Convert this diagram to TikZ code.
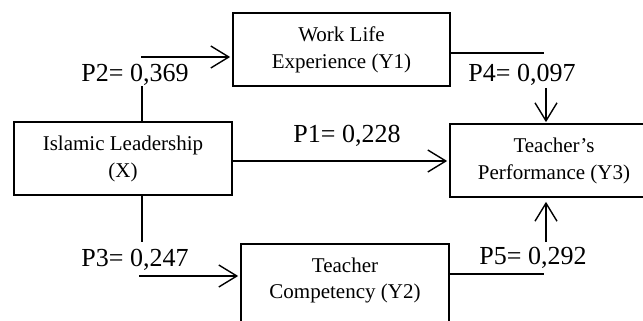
\documentclass[tikz,border=0pt]{standalone}
\usepackage{fontspec}
\setmainfont{Liberation Serif}
\usetikzlibrary{arrows.meta}
\begin{document}
\begin{tikzpicture}[x=1pt,y=-1pt,
  box/.style={draw,line width=1.7pt,rectangle,inner sep=0pt,align=center,
    font=\fontsize{21}{27}\selectfont},
  lbl/.style={inner sep=0pt,font=\fontsize{26}{30}\selectfont},
  conn/.style={line width=1.4pt},
  arr/.style={conn,-{Straight Barb[length=18pt,width=22pt,line width=1.4pt]}}]
\useasboundingbox (0,0) rectangle (643,321);
\fill[white] (0,0) rectangle (643,321);
% boxes
\node[box,minimum width=217pt,minimum height=73pt] (y1) at (341.5,49.5) {Work Life\\Experience (Y1)};
\node[box,minimum width=218pt,minimum height=73pt] (x) at (123,158.5) {Islamic Leadership\\(X)};
\node[box,minimum width=208pt,minimum height=73pt] (y3) at (554,160.5) {Teacher’s\\Performance (Y3)};
\node[box,minimum width=208pt,minimum height=90pt] (y2) at (345,289) {};
\node[align=center,inner sep=0pt,font=\fontsize{21}{26}\selectfont] (y2t) at (345,280) {Teacher\\Competency (Y2)};
% coordinates
\coordinate (p2a) at (142,86);
\coordinate (p2b) at (141,57);
\coordinate (p3a) at (142,242);
\coordinate (p3b) at (139,276);
\coordinate (p1) at (0,161);
\coordinate (p4a) at (544,53);
\coordinate (p4b) at (546,88);
\coordinate (p5a) at (544,274);
\coordinate (p5b) at (546,242);
% connectors
\draw[conn] (p2a |- x.north) -- (p2a);
\draw[arr,shorten >=2pt] (p2b) -- (p2b -| y1.west);
\draw[arr,shorten >=2pt] (x.east |- p1) -- (p1 -| y3.west);
\draw[conn] (p3a |- x.south) -- (p3a);
\draw[arr,shorten >=2pt] (p3b) -- (p3b -| y2.west);
\draw[conn] (y1.east |- p4a) -- (p4a);
\draw[arr,shorten >=1pt] (p4b) -- (p4b |- y3.north);
\draw[conn] (y2.east |- p5a) -- (p5a);
\draw[arr,shorten >=4pt] (p5b) -- (p5b |- y3.south);
% labels
\node[lbl] (l2) at (135,75) {P2= 0,369};
\node[lbl] (l4) at (522,75) {P4= 0,097};
\node[lbl] (l1) at (347,136) {P1= 0,228};
\node[lbl] (l3) at (135,260) {P3= 0,247};
\node[lbl] (l5) at (533,258) {P5= 0,292};
\end{tikzpicture}
\end{document}
